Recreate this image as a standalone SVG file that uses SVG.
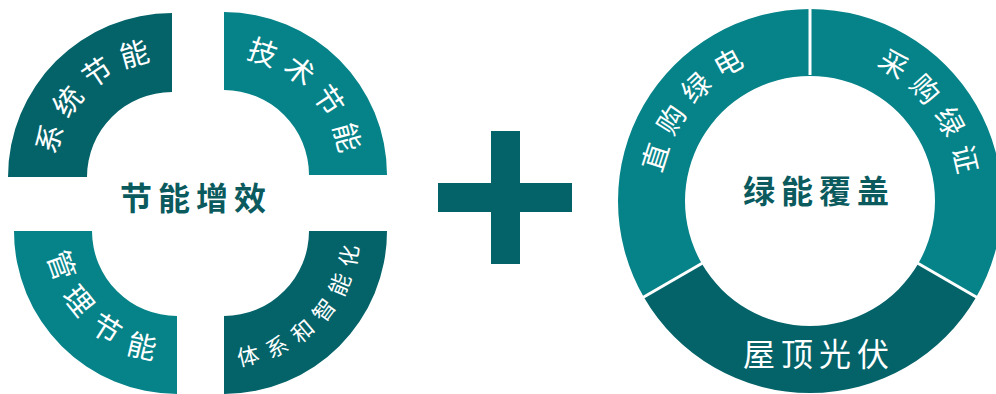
<svg xmlns="http://www.w3.org/2000/svg" width="996" height="394" viewBox="0 0 996 394">
  <style>
    .dark { fill: #046369; }
    .light { fill: #068388; }
    .lbl { font-family: "Noto Sans CJK SC", "Noto Sans", sans-serif; fill: #ffffff; }
    .ctr { font-family: "Noto Sans CJK SC", "Noto Sans", sans-serif; fill: #0a5a5e; font-weight: bold; font-size: 32px; letter-spacing: 6px; }
    .sep { stroke: #ffffff; stroke-width: 3; }
  </style>
  <defs>
    <path id="p-tl" d="M 54,177 A 118 118 0 0 1 172,59"/>
    <path id="p-tr" d="M 224,57 A 118 118 0 0 1 342,175"/>
    <path id="p-bl" d="M 46,231 A 131 131 0 0 0 177,362"/>
    <path id="p-br" d="M 224,366.4 A 135.4 135.4 0 0 0 359.4,231"/>
    <path id="p-rl" d="M 660.9,220.6 A 150.4 150.4 0 0 1 790.4,51.9"/>
    <path id="p-rr" d="M 830.9,52.1 A 150.4 150.4 0 0 1 958.9,221.9"/>
  </defs>

  <g id="energy-saving">
    <g id="system-saving">
      <path class="dark" d="M 8,177 A 164 164 0 0 1 172,13 L 172,92 A 85 85 0 0 0 87,177 Z"/>
      <text class="lbl" font-size="29" letter-spacing="9"><textPath href="#p-tl" startOffset="97.2" text-anchor="middle">系统节能</textPath></text>
    </g>
    <g id="tech-saving">
      <path class="light" d="M 224,12 A 163 163 0 0 1 387,175 L 309,175 A 85 85 0 0 0 224,90 Z"/>
      <text class="lbl" font-size="29" letter-spacing="9"><textPath href="#p-tr" startOffset="97.2" text-anchor="middle">技术节能</textPath></text>
    </g>
    <g id="management-saving">
      <path class="light" d="M 14,231 L 92,231 A 85 85 0 0 0 177,316 L 177,394 A 163 163 0 0 1 14,231 Z"/>
      <text class="lbl" font-size="29" letter-spacing="14"><textPath href="#p-bl" startOffset="109.9" text-anchor="middle">管理节能</textPath></text>
    </g>
    <g id="system-intelligence">
      <path class="dark" d="M 309,231 L 387,231 A 163 163 0 0 1 224,394 L 224,316 A 85 85 0 0 0 309,231 Z"/>
      <text class="lbl" font-size="22" letter-spacing="10"><textPath href="#p-br" startOffset="111.3" text-anchor="middle">体系和智能化</textPath></text>
    </g>
    <text id="energy-saving-title" class="ctr" x="196" y="210" text-anchor="middle">节能增效</text>
  </g>

  <g id="plus">
    <rect class="dark" x="491" y="131" width="29" height="133"/>
    <rect class="dark" x="438" y="183" width="134" height="29"/>
  </g>

  <g id="green-energy">
    <g id="direct-green-power">
      <path class="light" d="M 643.72,297 A 192 192 0 0 1 810,9 L 810,76 A 125 125 0 0 0 701.75,263.5 Z"/>
      <text class="lbl" font-size="28" letter-spacing="10"><textPath href="#p-rl" startOffset="123.1" text-anchor="middle">直购绿电</textPath></text>
    </g>
    <g id="green-certificates">
      <path class="light" d="M 810,9 A 192 192 0 0 1 976.28,297 L 918.25,263.5 A 125 125 0 0 0 810,76 Z"/>
      <text class="lbl" font-size="28" letter-spacing="10"><textPath href="#p-rr" startOffset="123.1" text-anchor="middle">采购绿证</textPath></text>
    </g>
    <g id="rooftop-pv">
      <path class="dark" d="M 976.28,297 A 192 192 0 0 1 643.72,297 L 701.75,263.5 A 125 125 0 0 0 918.25,263.5 Z"/>
      <text class="lbl" x="819" y="366" font-size="32" letter-spacing="6" text-anchor="middle">屋顶光伏</text>
    </g>
    <line class="sep" x1="810" y1="75" x2="810" y2="8"/>
    <line class="sep" x1="917.4" y1="263" x2="977.1" y2="297.5"/>
    <line class="sep" x1="702.6" y1="263" x2="642.9" y2="297.5"/>
    <text id="green-energy-title" class="ctr" x="819" y="203" text-anchor="middle">绿能覆盖</text>
  </g>

  <g id="connectors"/>
</svg>
